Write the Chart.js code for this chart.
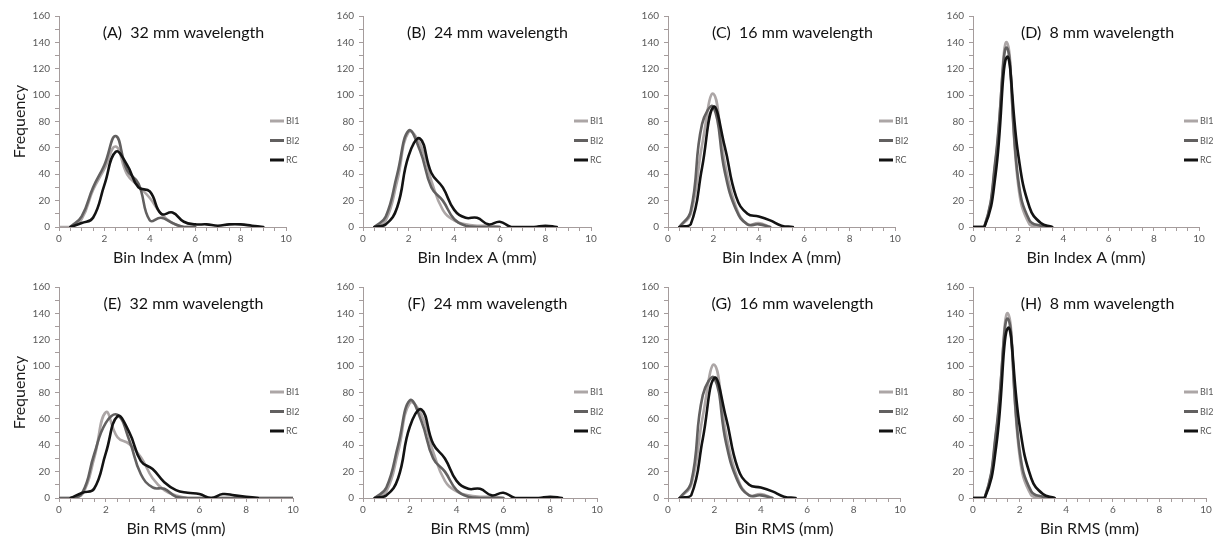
<!DOCTYPE html>
<html>
<head>
<meta charset="utf-8">
<title>Bin distributions by wavelength</title>
<script src="https://cdn.jsdelivr.net/npm/chart.js@4.4.1/dist/chart.umd.min.js"></script>
<style>
  html, body { margin: 0; padding: 0; background: #fff; }
  #wrap { position: relative; width: 1216px; height: 542px; overflow: hidden; }
  #wrap canvas { position: absolute; }
</style>
</head>
<body>
<div id="wrap"></div>
<script>
// bin centres (mm), one entry per 0.5 mm bin
var bins = [0, 0.5, 1, 1.5, 2, 2.5, 3, 3.5, 4, 4.5, 5, 5.5, 6, 6.5, 7, 7.5, 8, 8.5, 9, 9.5, 10];
var seriesNames = ["BI1", "BI2", "RC"];
var xTicks = [0, 2, 4, 6, 8, 10];
var yTicks = [0, 20, 40, 60, 80, 100, 120, 140, 160];

// Bin Index A, 32 mm
var a32_BI1 = [0, 0, 6, 28, 44, 61, 40, 31, 22, 10, 3, 0, 0];
var a32_BI2 = [null, 0, 8, 30, 47, 69, 43, 33, 5, 7, 3, 0, 0];
var a32_RC  = [null, 0, 3, 7, 32, 57, 47, 30, 27, 10, 11, 4, 2, 2, 1, 2, 2, 1, 0];
// Bin Index A, 24 mm
var a24_BI1 = [null, 0, 5, 35, 72, 63, 35, 13, 5, 2, 1, 1, 0];
var a24_BI2 = [null, 0, 8, 40, 73, 58, 30, 20, 6, 1, 0, 0, 0];
var a24_RC  = [null, 0, 2, 15, 54, 67, 41, 30, 13, 7, 7, 2, 4, 0, 0, 0, 1, 0];
// Bin Index A, 16 mm
var a16_BI1 = [null, 0, 10, 62, 101, 49, 15, 2, 3, 0];
var a16_BI2 = [null, 0, 12, 78, 91, 42, 13, 2, 2, 0];
var a16_RC  = [null, 0, 2, 45, 91, 61, 23, 10, 8, 5, 1, 0];
// Bin Index A, 8 mm
var a8_BI1 = [0, 0, 50, 140, 32, 2, 0];
var a8_BI2 = [0, 0, 52, 136, 36, 5, 1, 0];
var a8_RC  = [0, 0, 40, 129, 55, 15, 3, 0];

// Bin RMS, 32 mm
var r32_BI1 = [0, 0, 3, 30, 65, 46, 41, 31, 15, 6, 2, 0, 0, 0, 0, 0, 0, 0, 0, 0, 0];
var r32_BI2 = [0, 0, 4, 33, 57, 63, 44, 18, 8, 7, 1, 0, 0, 0, 0, 0, 0, 0, 0, 0, 0];
var r32_RC  = [null, 0, 4, 7, 34, 62, 50, 28, 22, 12, 6, 4, 3, 0, 3, 2, 1, 0];
// Bin RMS, 24 mm
var r24_BI1 = [null, 0, 5, 35, 72, 63, 35, 13, 5, 2, 1, 1, 0];
var r24_BI2 = [null, 0, 8, 40, 74, 58, 30, 20, 6, 1, 0, 0, 0];
var r24_RC  = [null, 0, 2, 15, 54, 67, 41, 30, 13, 7, 7, 2, 4, 0, 0, 0, 1, 0];
// Bin RMS, 16 mm
var r16_BI1 = [null, 0, 10, 62, 101, 49, 15, 2, 3, 0];
var r16_BI2 = [null, 0, 12, 78, 91, 42, 13, 2, 2, 0];
var r16_RC  = [null, 0, 2, 45, 91, 61, 23, 10, 8, 5, 1, 0];
// Bin RMS, 8 mm
var r8_BI1 = [0, 0, 50, 140, 32, 2, 0];
var r8_BI2 = [0, 0, 52, 136, 36, 5, 1, 0];
var r8_RC  = [0, 0, 40, 129, 55, 15, 3, 0];

var lineColors = ["#aca6a6", "#626060", "#131313"];
var axisColor = "#a59c9c";
var labelColor = "#595959";
var font = "Lato, 'Open Sans', sans-serif";

var panels = [
  { title: "(A)  32 mm wavelength", xTitle: "Bin Index A (mm)", freq: true,  series: [a32_BI1, a32_BI2, a32_RC], left: 0,   top: 0,   right: 20 },
  { title: "(B)  24 mm wavelength", xTitle: "Bin Index A (mm)", freq: false, series: [a24_BI1, a24_BI2, a24_RC], left: 304, top: 0,   right: 19 },
  { title: "(C)  16 mm wavelength", xTitle: "Bin Index A (mm)", freq: false, series: [a16_BI1, a16_BI2, a16_RC], left: 609, top: 0,   right: 20 },
  { title: "(D)  8 mm wavelength",  xTitle: "Bin Index A (mm)", freq: false, series: [a8_BI1, a8_BI2, a8_RC],    left: 914, top: 0,   right: 21 },
  { title: "(E)  32 mm wavelength", xTitle: "Bin RMS (mm)",     freq: true,  series: [r32_BI1, r32_BI2, r32_RC], left: 0,   top: 271, right: 13 },
  { title: "(F)  24 mm wavelength", xTitle: "Bin RMS (mm)",     freq: false, series: [r24_BI1, r24_BI2, r24_RC], left: 304, top: 271, right: 13 },
  { title: "(G)  16 mm wavelength", xTitle: "Bin RMS (mm)",     freq: false, series: [r16_BI1, r16_BI2, r16_RC], left: 609, top: 271, right: 15 },
  { title: "(H)  8 mm wavelength",  xTitle: "Bin RMS (mm)",     freq: false, series: [r8_BI1, r8_BI2, r8_RC],    left: 914, top: 271, right: 14 }
];

function toPoints(values) {
  var pts = [];
  values.forEach(function (v, i) {
    if (v !== null && v !== undefined) pts.push({ x: bins[i], y: v });
  });
  return pts;
}

// panel caption and the little line legend sit inside the plot, Excel style
var panelDecor = {
  id: "panelDecor",
  afterDraw: function (chart, args, opts) {
    var ctx = chart.ctx;
    ctx.save();
    ctx.font = "16px " + font;
    ctx.fillStyle = "#111";
    ctx.textAlign = "center";
    ctx.textBaseline = "middle";
    ctx.fillText(opts.title, 183.5, 33);

    ctx.font = "9px " + font;
    ctx.textAlign = "left";
    chart.data.datasets.forEach(function (ds, i) {
      var y = 121 + i * 19.5;
      ctx.strokeStyle = ds.borderColor;
      ctx.lineWidth = 3;
      ctx.beginPath();
      ctx.moveTo(270, y);
      ctx.lineTo(284, y);
      ctx.stroke();
      ctx.fillStyle = labelColor;
      ctx.fillText(ds.label, 286, y + 0.5);
    });
    ctx.restore();
  }
};

var wrap = document.getElementById("wrap");

panels.forEach(function (p) {
  var canvas = document.createElement("canvas");
  canvas.width = 310;
  canvas.height = 271;
  canvas.style.left = p.left + "px";
  canvas.style.top = p.top + "px";
  canvas.style.width = "310px";
  canvas.style.height = "271px";
  wrap.appendChild(canvas);

  new Chart(canvas.getContext("2d"), {
    type: "line",
    data: {
      datasets: p.series.map(function (vals, i) {
        return {
          label: seriesNames[i],
          data: toPoints(vals),
          borderColor: lineColors[i],
          borderWidth: 2.6,
          tension: 0.45,
          pointRadius: 0,
          fill: false,
          borderJoinStyle: "round",
          borderCapStyle: "round",
          order: 2 - i
        };
      })
    },
    options: {
      responsive: false,
      animation: false,
      devicePixelRatio: 1,
      layout: { padding: { left: 0, right: p.right + 4, top: 16, bottom: 0 } },
      plugins: {
        legend: { display: false },
        tooltip: { enabled: false },
        panelDecor: { title: p.title }
      },
      scales: {
        x: {
          type: "linear",
          min: 0,
          max: 10,
          border: { color: axisColor, width: 1 },
          grid: { drawOnChartArea: false, drawTicks: true, tickLength: 4, color: axisColor },
          ticks: {
            stepSize: 0.5,
            autoSkip: false,
            maxRotation: 0,
            padding: 2,
            color: labelColor,
            font: { family: font, size: 10 },
            callback: function (v) { return xTicks.indexOf(v) >= 0 ? String(v) : ""; }
          },
          title: {
            display: true,
            text: p.xTitle,
            color: "#1a1a1a",
            font: { family: font, size: 16 },
            padding: { top: 0, bottom: 4 }
          },
          afterFit: function (scale) { scale.height = 44; }
        },
        y: {
          min: 0,
          max: 160,
          border: { color: axisColor, width: 1 },
          grid: { drawOnChartArea: false, drawTicks: true, tickLength: 4, color: axisColor },
          ticks: {
            stepSize: 10,
            autoSkip: false,
            padding: 5,
            color: labelColor,
            font: { family: font, size: 10 },
            callback: function (v) { return yTicks.indexOf(v) >= 0 ? String(v) : ""; }
          },
          title: {
            display: p.freq,
            text: "Frequency",
            color: "#1a1a1a",
            font: { family: font, size: 16 },
            padding: { top: 10, bottom: 0 }
          },
          afterFit: function (scale) { scale.width = 59; }
        }
      }
    },
    plugins: [panelDecor]
  });
});
</script>
</body>
</html>
